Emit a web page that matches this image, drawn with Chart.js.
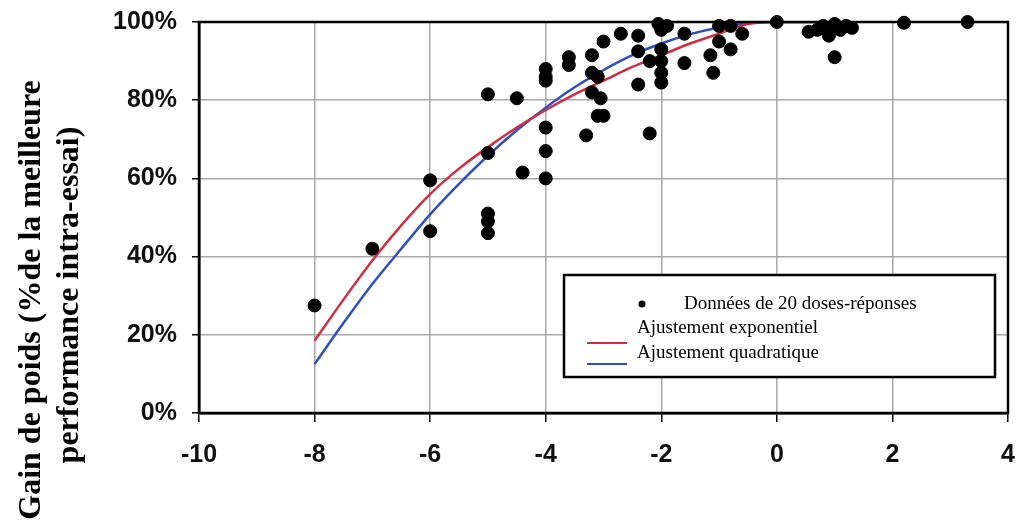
<!DOCTYPE html>
<html>
<head>
<meta charset="utf-8">
<script src="https://cdn.jsdelivr.net/npm/chart.js@4/dist/chart.umd.min.js"></script>
<style>
  html, body { margin: 0; padding: 0; background: #fff; }
  #wrap { width: 1017px; height: 522px; }
</style>
</head>
<body>
<div id="wrap"><canvas id="doseChart" width="1017" height="522"></canvas></div>
<script>
// observed dose-response points (x, % of best intra-trial performance)
const obsX = [-8, -7, -6, -6, -5, -5, -5, -5, -5, -4.5, -4.4,
    -4, -4, -4, -4, -4, -4, -3.6, -3.6, -3.2, -3.2, -3.1, -3.2, -3.05, -3.1, -3.0, -3.3,
    -3.0, -2.7, -2.4, -2.4, -2.4, -2.2, -2.2, -2.05, -2, -1.9, -2, -2, -2, -2,
    -1.6, -1.6, -1.15, -1.1, -1.0, -0.8, -0.8, -0.6, -1.0,
    0, 0.55, 0.7, 0.8, 0.9, 1.0, 1.1, 1.2, 0.9, 1.3, 1.0, 2.2, 3.3];
const obsY = [27.5, 42, 59.5, 46.5, 81.5, 66.5, 51, 49, 46, 80.5, 61.5,
    88, 86, 85, 73, 67, 60, 91, 89, 91.5, 87, 86, 82, 80.5, 76, 76, 71,
    95, 97, 96.5, 92.5, 84, 90, 71.5, 99.5, 98, 99, 93, 90, 87, 84.5,
    97, 89.5, 91.5, 87, 99, 99, 93, 97, 95,
    100, 97.5, 98, 99, 97, 99.5, 98, 99, 96.5, 98.5, 91, 99.8, 100];

// fitted curves
const fitX = [-8, -7.5, -7, -6.5, -6, -5.5, -5, -4.5, -4, -3.5, -3, -2.5, -2, -1.5, -1, -0.5, 0, 0.8];
const expFit = [18.5, 29, 39, 48, 56, 62.5, 68, 73, 77.5, 81.5, 85, 88.5, 91.5, 94.5, 97, 99.5, 100, 100];
const quadFit = [12.5, 23, 33, 42, 50.8, 58.6, 65.8, 72.3, 78.1, 83.3, 87.7, 91.5, 94.5, 96.9, 98.6, 99.7, 100, 100];

const xTicks = [-10, -8, -6, -4, -2, 0, 2, 4];
const yTicks = [0, 20, 40, 60, 80, 100];

const seriesLabels = ['Données de 20 doses-réponses', 'Ajustement exponentiel', 'Ajustement quadratique'];
const yTitle = ['Gain de poids (%de la meilleure', 'performance intra-essai)'];

const toPts = (xs, ys) => xs.map((x, i) => ({ x: x, y: ys[i] }));

const tickFont = { family: 'Liberation Sans', size: 25, weight: 'bold' };

const frameAndLegend = {
    id: 'frameAndLegend',
    afterDatasetsDraw(chart) {
        const c = chart.ctx;
        const a = chart.chartArea;
        c.save();
        c.strokeStyle = '#000';
        c.lineWidth = 2.5;
        c.strokeRect(a.left, a.top, a.right - a.left, a.bottom - a.top);

        // legend box
        c.fillStyle = '#fff';
        c.fillRect(564, 275, 431, 102);
        c.lineWidth = 2.5;
        c.strokeRect(564, 275, 431, 102);
        c.font = '19px "Liberation Serif"';
        c.fillStyle = '#000';
        c.textBaseline = 'middle';
        c.beginPath();
        c.arc(642, 304, 3.5, 0, Math.PI * 2);
        c.fill();
        c.fillText(seriesLabels[0], 684, 304);
        c.fillText(seriesLabels[1], 637, 328);
        c.fillText(seriesLabels[2], 637, 353);
        c.lineWidth = 2;
        c.strokeStyle = chart.data.datasets[1].borderColor;
        c.beginPath(); c.moveTo(587, 343); c.lineTo(627, 343); c.stroke();
        c.strokeStyle = chart.data.datasets[2].borderColor;
        c.beginPath(); c.moveTo(587, 364); c.lineTo(627, 364); c.stroke();

        // y axis title, two rotated lines
        c.font = 'bold 32px "Liberation Serif"';
        c.textAlign = 'center';
        c.fillStyle = '#000';
        [[32, 300], [70, 295]].forEach((p, i) => {
            c.save();
            c.translate(p[0], p[1]);
            c.rotate(-Math.PI / 2);
            c.fillText(yTitle[i], 0, 0);
            c.restore();
        });
        c.restore();
    }
};

new Chart(document.getElementById('doseChart'), {
    type: 'scatter',
    data: {
        datasets: [
            {
                label: seriesLabels[0],
                data: toPts(obsX, obsY),
                backgroundColor: '#000',
                borderColor: '#000',
                pointRadius: 6.5,
                pointHoverRadius: 6.5,
                clip: false,
                order: 0
            },
            {
                label: seriesLabels[1],
                data: toPts(fitX, expFit),
                showLine: true,
                borderColor: '#cc2e45',
                borderWidth: 2.5,
                pointRadius: 0,
                tension: 0.3,
                order: 1
            },
            {
                label: seriesLabels[2],
                data: toPts(fitX, quadFit),
                showLine: true,
                borderColor: '#2f4fbf',
                borderWidth: 2.5,
                pointRadius: 0,
                tension: 0.3,
                order: 2
            }
        ]
    },
    options: {
        responsive: false,
        animation: false,
        devicePixelRatio: 1,
        layout: { padding: { left: 0, top: 22, right: 9, bottom: 0 } },
        plugins: {
            legend: { display: false },
            tooltip: { enabled: false }
        },
        scales: {
            x: {
                type: 'linear',
                min: -10,
                max: 4,
                afterBuildTicks: (s) => { s.ticks = xTicks.map(v => ({ value: v })); },
                afterFit: (s) => { s.height = 109; s.paddingLeft = 0; s.paddingRight = 0; },
                ticks: { font: tickFont, color: '#111', padding: 18 },
                grid: { color: '#a8a8a8', lineWidth: 1.5, tickColor: '#000', tickLength: 9 },
                border: { color: '#000', width: 2.5 }
            },
            y: {
                min: 0,
                max: 100,
                afterBuildTicks: (s) => { s.ticks = yTicks.map(v => ({ value: v })); },
                afterFit: (s) => { s.width = 199; s.paddingTop = 0; s.paddingBottom = 0; },
                ticks: { font: tickFont, color: '#111', padding: 15, callback: (v) => v + '%' },
                grid: { color: '#a8a8a8', lineWidth: 1.5, tickColor: '#000', tickLength: 7 },
                border: { color: '#000', width: 2.5 }
            }
        }
    },
    plugins: [frameAndLegend]
});
</script>
</body>
</html>
